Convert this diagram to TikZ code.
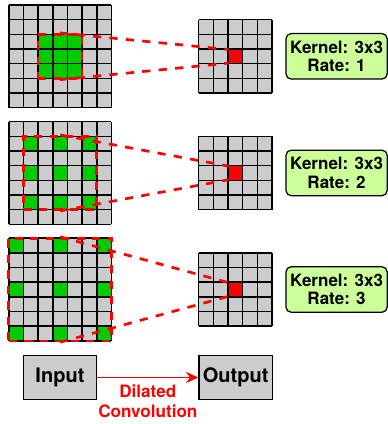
\documentclass[tikz,border=0pt]{standalone}
\usepackage{fontspec}
\setmainfont{TeX Gyre Heros}
\usepackage{xcolor}
\usepackage{tikz}
\usetikzlibrary{arrows.meta}

\definecolor{cellgray}{HTML}{CCCCCC}
\definecolor{tapgreen}{HTML}{00CC00}
\definecolor{tagfill}{HTML}{CCFF99}

\tikzset{
  gridline/.style={black, line width=1.4pt},
  window/.style={draw=red, line width=2.6pt, dash pattern=on 8pt off 7pt, minimum size=#1, inner sep=0pt},
  conn/.style={red, line width=2.6pt, dash pattern=on 8pt off 8pt},
  hit/.style={fill=red, minimum size=0.45cm, inner sep=0pt},
  tag/.style={draw=black, fill=tagfill, rounded corners=5pt, line width=1.2pt, minimum width=3.45cm, minimum height=1.55cm, align=center, inner sep=0pt, font=\bfseries\fontsize{16.5}{18}\selectfont},
  box/.style={draw=black, fill=cellgray, line width=1.4pt, minimum width=2.5cm, minimum height=1.5cm, inner sep=0pt, font=\bfseries\fontsize{19.4}{22}\selectfont}
}

\begin{document}
\begin{tikzpicture}[scale=.5]
\useasboundingbox (0,0) rectangle (26.45,28.91);

% one row per dilation rate
\foreach \k/\d in {0/1, 1/2, 2/3}{
\begin{scope}[shift={(0.6,21.57-7.95*\k)}]
% INPUT 7x7
  \fill[cellgray] (0,0) rectangle (7,7);
  \foreach \i in {-1,0,1}
    \foreach \j in {-1,0,1}
      \fill[tapgreen] (3+\i*\d,3+\j*\d) rectangle ++(1,1);
  \draw[gridline] (0,0) grid (7,7);

% OUTPUT 5x5
  \begin{scope}[shift={(12.95,1)}]
    \fill[cellgray] (0,0) rectangle (5,5);
    \draw[gridline] (0,0) grid (5,5);
  \end{scope}
  \node[hit] (hit\k) at (15.45,3.5) {};

% receptive field
  \node[window={(2*\d+1)*0.5cm}] (win\k) at (3.5,3.5) {};
  \draw[conn] (win\k.north) -- (hit\k.north west);
  \draw[conn] (win\k.south) -- (hit\k.south west);

% label
  \node[tag] (tag\k) at (22.35,3.5) {Kernel: 3x3\\Rate: \d};
\end{scope}
}

% LEGEND
  \node[box] (in) at (4.09,3.17) {Input};
  \node[box] (out) at (16.07,3.17) {Output};
  \draw[red, line width=1pt, -{Stealth[length=12pt,width=11pt]}] (in) -- (out)
    node[midway, below=3pt, align=center, text=red, font=\bfseries\fontsize{16.6}{19.4}\selectfont] {Dilated\\Convolution};

\end{tikzpicture}
\end{document}
